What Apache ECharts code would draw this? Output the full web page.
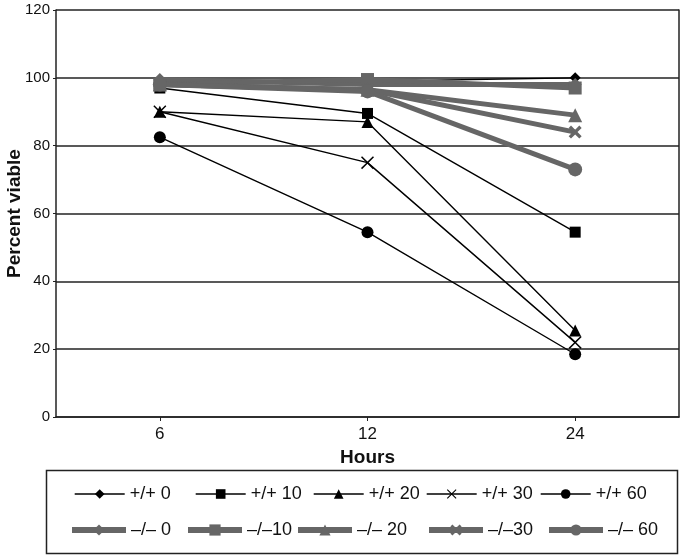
<!DOCTYPE html>
<html>
<head>
<meta charset="utf-8">
<script src="https://cdn.jsdelivr.net/npm/echarts@6/dist/echarts.min.js"></script>
<style>html,body{margin:0;padding:0;background:#fff;}#c{width:682px;height:556px;}</style>
</head>
<body>
<div id="c"></div>
<script>
// ---- data ----
const hours = ['6', '12', '24'];
const yTicks = [0, 20, 40, 60, 80, 100, 120];
const names = ['+/+ 0', '+/+ 10', '+/+ 20', '+/+ 30', '+/+ 60', '\u2013/\u2013 0', '\u2013/\u201310', '\u2013/\u2013 20', '\u2013/\u201330', '\u2013/\u2013 60'];
const pp0  = [99.5, 99, 100];
const pp10 = [97, 89.5, 54.5];
const pp20 = [90, 87, 25.5];
const pp30 = [90, 75, 22];
const pp60 = [82.5, 54.5, 18.5];
const mm0  = [99.5, 98, 98];
const mm10 = [98, 99.5, 97];
const mm20 = [98, 96.5, 89];
const mm30 = [98, 96.5, 84];
const mm60 = [98, 96, 73];
const seriesValues = [pp0, pp10, pp20, pp30, pp60, mm0, mm10, mm20, mm30, mm60];

// ---- styling ----
const FONT = '"Liberation Sans", Arial, Helvetica, sans-serif';
const xThin = 'path://M0,0.8L0.8,0L5,4.2L9.2,0L10,0.8L5.8,5L10,9.2L9.2,10L5,5.8L0.8,10L0,9.2L4.2,5Z';
const xThick = 'path://M0,1.8L1.8,0L5,3.2L8.2,0L10,1.8L6.8,5L10,8.2L8.2,10L5,6.8L1.8,10L0,8.2L3.2,5Z';
const symbols = ['diamond', 'rect', 'triangle', xThin, 'circle', 'diamond', 'rect', 'triangle', xThick, 'circle'];
const symSizes = [11, 11, 12, 13, 12, 13, 13, 14, 13, 14];

const series = seriesValues.map((vals, i) => {
  const black = i < 5;
  const col = black ? '#000' : '#666';
  return {
    name: names[i],
    type: 'line',
    data: vals,
    symbol: symbols[i],
    symbolSize: symSizes[i],
    showSymbol: true,
    lineStyle: { color: col, width: black ? 1.4 : 5 },
    itemStyle: { color: col },
    emphasis: { disabled: true },
    animation: false
  };
});

const legendLeft = [74, 195, 313, 426, 540, 69, 185, 295, 426, 546];
const legends = names.map((n, i) => ({
  data: [{ name: n, lineStyle: { width: i < 5 ? 1.4 : 6 } }],
  left: legendLeft[i],
  top: i < 5 ? 485 : 521,
  padding: 0,
  itemWidth: i < 5 ? 50 : 54,
  itemHeight: i < 5 ? 12 : 14,
  itemGap: 0,
  itemTextGap: 8,
  selectedMode: false,
  textStyle: { fontFamily: FONT, fontSize: 18, color: '#111' }
}));

const chart = echarts.init(document.getElementById('c'), null, { renderer: 'canvas' });
chart.setOption({
  animation: false,
  backgroundColor: '#fff',
  grid: { left: 56, right: 3, top: 10, bottom: 139, containLabel: false, outerBoundsMode: 'none' },
  xAxis: {
    type: 'category',
    data: hours,
    boundaryGap: true,
    name: 'Hours',
    nameLocation: 'middle',
    nameGap: 28,
    nameTextStyle: { fontFamily: FONT, fontSize: 19, fontWeight: 'bold', color: '#111' },
    axisLine: { lineStyle: { color: '#222', width: 1.5 } },
    axisTick: { show: true, alignWithLabel: true, length: 4, lineStyle: { color: '#222', width: 1 } },
    axisLabel: { fontFamily: FONT, fontSize: 17, color: '#111', margin: 9 },
    splitLine: { show: false }
  },
  yAxis: [{
    type: 'value',
    min: yTicks[0],
    max: yTicks[yTicks.length - 1],
    interval: yTicks[1] - yTicks[0],
    name: 'Percent viable',
    nameLocation: 'middle',
    nameGap: 32,
    nameMoveOverlap: false,
    nameTextStyle: { fontFamily: FONT, fontSize: 19, fontWeight: 'bold', color: '#111' },
    axisLine: { show: true, lineStyle: { color: '#222', width: 1.5 } },
    axisTick: { show: true, length: 3, lineStyle: { color: '#222' } },
    axisLabel: { fontFamily: FONT, fontSize: 15, color: '#111', margin: 6 },
    splitLine: { show: true, lineStyle: { color: '#222', width: 1.5 } }
  }, {
    type: 'value',
    position: 'right',
    min: yTicks[0],
    max: yTicks[yTicks.length - 1],
    interval: yTicks[1] - yTicks[0],
    axisLine: { show: true, lineStyle: { color: '#222', width: 1.5 } },
    axisTick: { show: false },
    axisLabel: { show: false },
    splitLine: { show: false }
  }],
  legend: legends,
  graphic: [{
    type: 'rect',
    shape: { x: 46.5, y: 470.5, width: 631, height: 83 },
    style: { fill: 'none', stroke: '#222', lineWidth: 1.5 },
    silent: true
  }],
  series: series
});
</script>
</body>
</html>
